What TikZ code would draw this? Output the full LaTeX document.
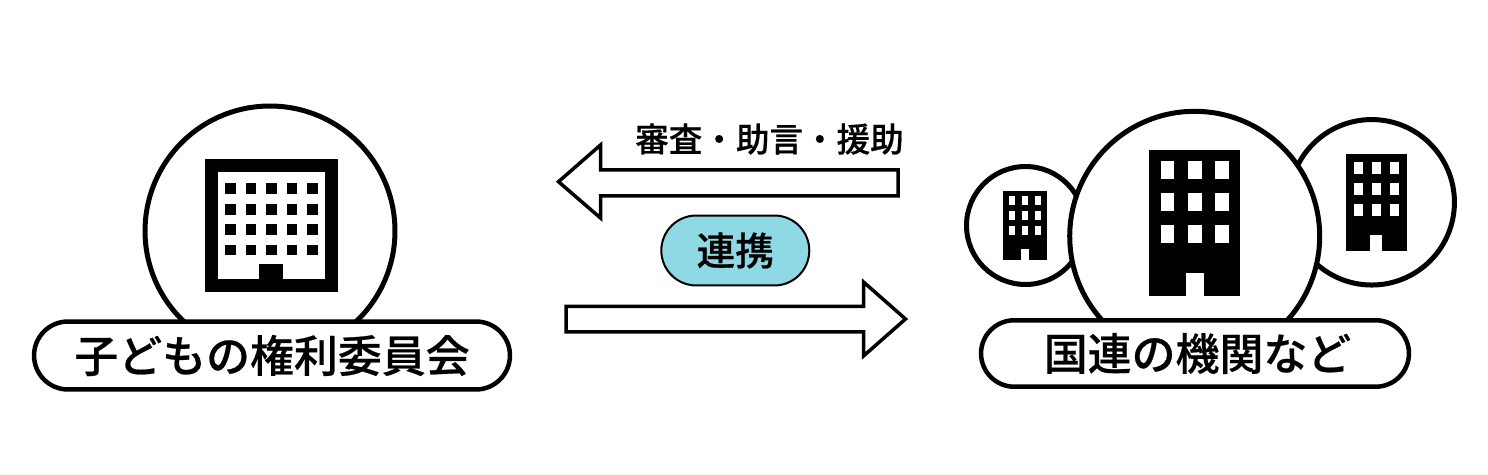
\documentclass[tikz,border=0pt]{standalone}
\usepackage{fontspec}
\usepackage{tikz}
\usetikzlibrary{shapes.misc}
\setmainfont[FakeBold=0.5]{Noto Sans CJK JP Medium}
\definecolor{linkblue}{HTML}{8ED9E3}
\tikzset{
	bubble/.style={shape=circle, draw=black, fill=white, line width=0.1cm, inner sep=0pt},
	namepill/.style={shape=rounded rectangle, draw=black, fill=white, line width=0.09cm, inner sep=0pt, font=\fontsize{25pt}{28pt}\selectfont},
	linkpill/.style={shape=rounded rectangle, draw=black, fill=linkblue, line width=0.04cm, inner sep=0pt, font=\fontsize{22pt}{25pt}\selectfont},
	blockarrow/.style={draw=black, fill=white, line width=0.07cm, miter limit=10},
}
\begin{document}
\begin{tikzpicture}[x=0.02cm, y=-0.02cm]
		\useasboundingbox (0, 0) rectangle (1488, 475);
		% Circles and name pills:
		\node[bubble, minimum size=5.0cm](Committee) at (270, 231){};
		\node[bubble, minimum size=2.36cm](SmallOrg) at (1025.5, 225.5){};
		\node[bubble, minimum size=3.31cm](SideOrg) at (1371.7, 202.3){};
		\node[bubble, minimum size=5.0cm](MainOrg) at (1194.7, 236.3){};
		\node[namepill, minimum width=9.52cm, minimum height=1.36cm](CommitteeName) at (272, 355.5){子どもの権利委員会};
		\node[namepill, minimum width=8.56cm, minimum height=1.33cm](OrgName) at (1195, 353.5){\hspace{0.1cm}国連の機関など};
		% Building of the committee:
		\fill (204.7, 159.3) rectangle (337.7, 292.3);
		\fill[white] (217.7, 172) rectangle (324.7, 279);
		\foreach \wx in {225, 245.7, 266, 286.7, 307}
			\foreach \wy in {183.3, 204, 224.3, 244.7}
				\fill (\wx, \wy) rectangle ++(10.7, 10.7);
		\fill (259, 263.7) rectangle (283.3, 279);
		% Building in the main circle:
		\fill (1149, 150) rectangle (1240.3, 296);
		\foreach \wx in {1160.7, 1188, 1215.3}
			\foreach \wy in {161, 193, 225}
				\fill[white] (\wx, \wy) rectangle ++(13.7, 18.2);
		\fill[white] (1185.7, 273.3) rectangle (1204, 296);
		% Building in the right circle:
		\fill (1346, 154.3) rectangle (1406.7, 250.7);
		\foreach \wx in {1354, 1372, 1390}
			\foreach \wy in {161.7, 182.7, 203.7}
				\fill[white] (\wx, \wy) rectangle ++(9, 12);
		\fill[white] (1370.3, 235.3) rectangle (1382.3, 250.7);
		% Building in the left circle:
		\fill (1003.3, 191) rectangle (1046.7, 260.3);
		\foreach \wx in {1009, 1021.7, 1034.7}
			\foreach \wy in {196.3, 211.3, 226.3}
				\fill[white] (\wx, \wy) rectangle ++(6.3, 8.7);
		\fill[white] (1020.7, 249.3) rectangle (1029.3, 260.3);
		% Block arrows and labels:
		\draw[blockarrow] (898, 170) -- (600.5, 170) -- (600.5, 145) -- (558.5, 181.7) -- (600.5, 218) -- (600.5, 196) -- (898, 196) -- cycle;
		\draw[blockarrow] (566, 306.5) -- (863.5, 306.5) -- (863.5, 282) -- (905.5, 319) -- (863.5, 356) -- (863.5, 332) -- (566, 332) -- cycle;
		\node[font=\fontsize{19.1pt}{22pt}\selectfont](ReviewLabel) at (769.5, 139){審査・助言・援助};
		\node[linkpill, minimum width=2.96cm, minimum height=1.40cm](LinkName) at (735.3, 250.5){連携};
	\end{tikzpicture}
\end{document}
